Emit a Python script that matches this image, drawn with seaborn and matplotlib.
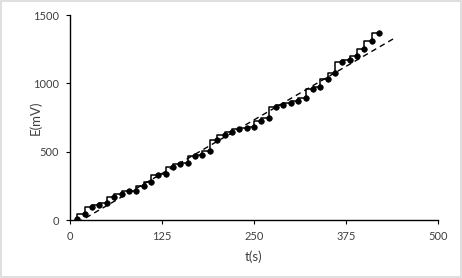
import numpy as np
import pandas as pd
import seaborn as sns
import matplotlib.pyplot as plt

# measured potential vs time
t_s = [10, 20, 30, 40, 50, 60, 70, 80, 90, 100, 110, 120, 130, 140, 150, 160,
       170, 180, 190, 200, 210, 220, 230, 240, 250, 260, 270, 280, 290, 300,
       310, 320, 330, 340, 350, 360, 370, 380, 390, 400, 410, 420]
e_mv = [5, 45, 92, 111, 125, 170, 189, 211, 213, 250, 280, 328, 340, 388, 412, 418,
        468, 476, 505, 585, 622, 646, 666, 671, 683, 726, 748, 824, 841, 858,
        871, 895, 956, 973, 1029, 1073, 1154, 1170, 1200, 1249, 1310, 1370]
trend_t = [10, 440]

x_ticks = [0, 125, 250, 375, 500]
y_ticks = [0, 500, 1000, 1500]

df = pd.DataFrame({'t': t_s, 'E': e_mv})

# linear trendline
slope, icpt = np.polyfit(df['t'], df['E'], 1)
trend = pd.DataFrame({'t': trend_t})
trend['E'] = slope * trend['t'] + icpt

sns.set_style('white')
plt.rcParams['font.family'] = ['Lato', 'DejaVu Sans']

fig = plt.figure(figsize=(4.62, 2.78), dpi=100)
ax = fig.add_axes([0.1515, 0.2086, 0.7965, 0.7374])

sns.lineplot(data=df, x='t', y='E', ax=ax, color='black', linewidth=1.1,
             drawstyle='steps-pre')
sns.scatterplot(data=df, x='t', y='E', ax=ax, color='black', s=16,
                edgecolor='black', linewidth=0.5, zorder=3)
sns.lineplot(data=trend, x='t', y='E', ax=ax, color='black', linewidth=1.0,
             linestyle=(0, (4, 3)))

ax.set_xlim(0, 500)
ax.set_ylim(0, 1500)
ax.set_xticks(x_ticks)
ax.set_yticks(y_ticks)
ax.tick_params(axis='both', labelsize=8, direction='out', length=3,
               width=0.8, color='black', labelcolor='#404040',
               bottom=True, left=True)
ax.tick_params(axis='x', pad=5)
ax.tick_params(axis='y', pad=5)
ax.set_xlabel('t(s)', fontsize=9.5, labelpad=6, color='#404040')
ax.set_ylabel('E(mV)', fontsize=9.5, color='#404040')
ax.yaxis.set_label_coords(-0.078, 0.5)

for side in ['top', 'right']:
    ax.spines[side].set_visible(False)
for side in ['left', 'bottom']:
    ax.spines[side].set_color('black')
    ax.spines[side].set_linewidth(1.0)

# light chart border
fig.patches.append(plt.Rectangle((0.003, 0.004), 0.994, 0.992,
                                 transform=fig.transFigure, fill=False,
                                 edgecolor='#d9d9d9', linewidth=1.2))

fig.savefig('out.png', dpi=100)
